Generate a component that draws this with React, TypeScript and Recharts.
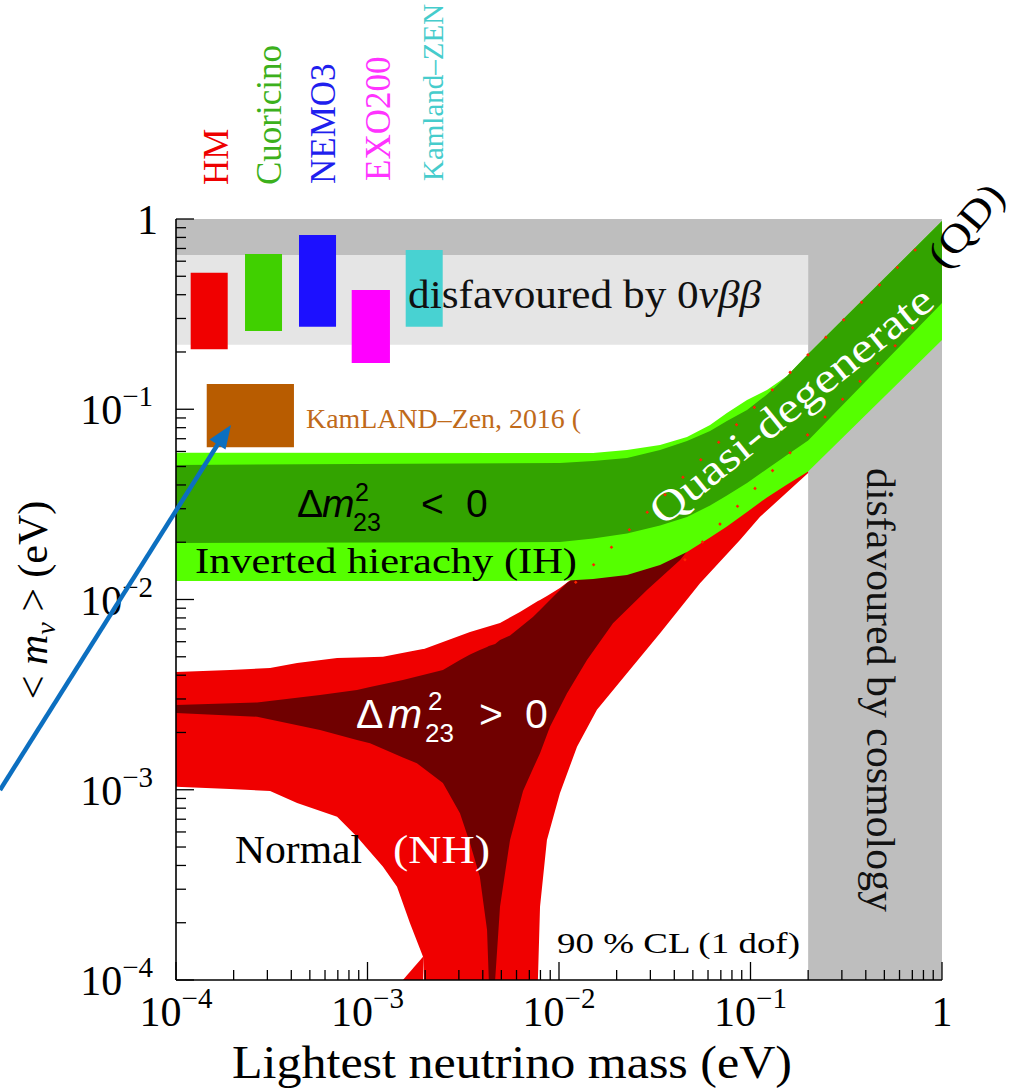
import React from 'react'
import { ComposedChart, Area, Line, XAxis, YAxis } from 'recharts'

const SERIF = '"Liberation Serif", "DejaVu Serif", serif'
const SANS = '"Liberation Sans", "DejaVu Sans", sans-serif'

// log axis ticks: decades plus 2..9 minors
const DECADES = [1e-4, 1e-3, 1e-2, 1e-1]
const MANTISSA = [1, 2, 3, 4, 5, 6, 7, 8, 9]
const TICKS = [...DECADES.flatMap((d) => MANTISSA.map((m) => m * d)), 1]

// disfavoured regions (eV)
const GRAY_TOP_X = [1e-4, 1]
const GRAY_TOP_LO = [0.647, 0.647]
const GRAY_TOP_HI = [1, 1]
const COSMO_X = [0.2, 1]
const COSMO_LO = [1e-4, 1e-4]
const COSMO_HI = [1, 1]
const DBD_X = [1e-4, 0.2]
const DBD_LO = [0.218, 0.218]
const DBD_HI = [0.647, 0.647]

// normal hierarchy, full range
const NH_X = [1e-4, 1.914e-4, 3.1e-4, 4.29e-4, 6.94e-4, 8.81e-4, 1.205e-3, 1.426e-3, 1.667e-3, 1.95e-3, 1.972e-3, 3.43e-3, 4.92e-3, 6.25e-3, 7.76e-3, 7.96e-3, 8.65e-3, 1.011e-2, 1.242e-2, 1.578e-2, 2.265e-2, 3.37e-2, 5.45e-2, 8.81e-2, 0.1122, 0.2]
const NH_LO = [1.038e-3, 1.009e-3, 9.85e-4, 8.52e-4, 7.22e-4, 5.66e-4, 3.94e-4, 3.09e-4, 1.99e-4, 1.326e-4, 1e-4, 1e-4, 1e-4, 1e-4, 1e-4, 2.43e-4, 5.45e-4, 9.58e-4, 1.684e-3, 2.63e-3, 4.09e-3, 6.64e-3, 1.217e-2, 2.055e-2, 2.72e-2, 4.62e-2]
const NH_HI = [4.16e-3, 4.26e-3, 4.36e-3, 4.64e-3, 4.93e-3, 4.96e-3, 5.005e-3, 5.17e-3, 5.33e-3, 5.5e-3, 5.5e-3, 6.75e-3, 7.52e-3, 8.6e-3, 9.82e-3, 9.94e-3, 1.043e-2, 1.149e-2, 1.345e-2, 1.5e-2, 1.82e-2, 2.46e-2, 3.33e-2, 4.91e-2, 5.96e-2, 8.78e-2]
// little spike at the bottom of the left branch
const NOTCH_X = [1.53e-3, 1.95e-3]
const NOTCH_LO = [1e-4, 1e-4]
const NOTCH_HI = [1e-4, 1.326e-4]

// normal hierarchy, best fit
const NHB_X = [1e-4, 2.65e-4, 5.65e-4, 8.81e-4, 1.031e-3, 1.53e-3, 1.811e-3, 2.477e-3, 3.04e-3, 3.43e-3, 3.86e-3, 4.21e-3, 4.3e-3, 4.64e-3, 4.92e-3, 5.55e-3, 6.49e-3, 7.31e-3, 7.96e-3, 8.97e-3, 1.1e-2, 1.4e-2, 1.914e-2, 2.88e-2, 4.29e-2, 5.45e-2, 0.1122, 0.2]
const NHB_LO = [2.53e-3, 2.42e-3, 2.06e-3, 1.826e-3, 1.754e-3, 1.477e-3, 1.377e-3, 1.085e-3, 7.52e-4, 5.23e-4, 3.49e-4, 1.83e-4, 1e-4, 1e-4, 2.43e-4, 5.45e-4, 9.85e-4, 1.29e-3, 1.555e-3, 2.145e-3, 3.21e-3, 4.81e-3, 7.5e-3, 1.122e-2, 1.613e-2, 2.18e-2, 3.54e-2, 5.41e-2]
const NHB_HI = [2.79e-3, 2.875e-3, 3.15e-3, 3.34e-3, 3.47e-3, 3.775e-3, 3.94e-3, 4.26e-3, 4.81e-3, 5.14e-3, 5.43e-3, 5.63e-3, 5.69e-3, 5.83e-3, 6.13e-3, 6.47e-3, 7.34e-3, 8.09e-3, 8.81e-3, 9.94e-3, 1.221e-2, 1.429e-2, 1.713e-2, 2.32e-2, 2.955e-2, 3.54e-2, 6.11e-2, 9.33e-2]

// inverted hierarchy / quasi-degenerate band
const IH_X = [1e-4, 1.011e-2, 1.507e-2, 2.265e-2, 3.37e-2, 4.66e-2, 6.15e-2, 7.53e-2, 9.59e-2, 0.1219, 0.1552, 0.2, 1]
const IH_LO = [1.251e-2, 1.251e-2, 1.282e-2, 1.345e-2, 1.518e-2, 1.777e-2, 2.118e-2, 2.42e-2, 2.884e-2, 3.44e-2, 4.02e-2, 4.71e-2, 0.2312]
const IH_HI = [5.91e-2, 5.89e-2, 5.89e-2, 6.11e-2, 6.49e-2, 7.15e-2, 8.26e-2, 9.56e-2, 0.1118, 0.1263, 0.1495, 0.195, 0.976]
const IHB_LO = [1.981e-2, 2.005e-2, 2.092e-2, 2.223e-2, 2.449e-2, 2.714e-2, 3.12e-2, 3.52e-2, 4.1e-2, 4.85e-2, 5.75e-2, 6.86e-2, 0.3618]
const IHB_HI = [5.09e-2, 5.22e-2, 5.35e-2, 5.54e-2, 6.11e-2, 6.81e-2, 7.69e-2, 8.68e-2, 9.91e-2, 0.1195, 0.1495, 0.195, 0.976]

// NH edges inside the QD band (dotted)
const QD_UP_X = [1.21e-2, 0.887]
const QD_UP_Y = [1.22e-2, 0.839]
const QD_LOW_X = [4.5e-2, 0.887]
const QD_LOW_Y = [1.6e-2, 0.34]

// experimental limits
const EXP_NAMES = ['HM', 'Cuoricino', 'NEMO3', 'EXO200', 'Kamland\u2013ZEN']
const EXP_X1 = [1.193e-4, 2.293e-4, 4.388e-4, 8.27e-4, 1.583e-3]
const EXP_X2 = [1.862e-4, 3.578e-4, 6.85e-4, 1.31e-3, 2.47e-3]
const EXP_LO = [0.2065, 0.2578, 0.2716, 0.175, 0.2716]
const EXP_HI = [0.522, 0.655, 0.824, 0.4234, 0.687]
const KLZ_X = [1.447e-4, 4.13e-4]
const KLZ_LO = [0.0631, 0.0631]
const KLZ_HI = [0.1358, 0.1358]

const EXP_FILL = ['#f00000', '#40d000', '#1c10ff', '#ff00ff', '#48d2d2']
const EXP_TEXT = ['#ee0000', '#3cb01c', '#1f1fee', '#ff33ff', '#46cccc']

const band = (xs: number[], lo: number[], hi: number[]) => xs.map((x, i) => ({ x, r: [lo[i], hi[i]] }))
const pts = (xs: number[], ys: number[]) => xs.map((x, i) => ({ x, y: ys[i] }))

function isDecade(v: number) {
  const l = Math.log10(v)
  return Math.abs(l - Math.round(l)) < 1e-6
}

function Pow({ v, x, y, anchor }: { v: number; x: number; y: number; anchor: 'middle' | 'end' }) {
  const e = Math.round(Math.log10(v))
  if (e === 0) {
    return (
      <text x={anchor === 'end' ? x + 5 : x} y={y} textAnchor={anchor} fontFamily={SERIF} fontSize={42} fill="#000">
        1
      </text>
    )
  }
  return (
    <text x={x} y={y} textAnchor={anchor} fontFamily={SERIF} fontSize={42} fill="#000">
      10
      <tspan dy={-18} fontSize={29}>
        {'\u2212' + Math.abs(e)}
      </tspan>
    </text>
  )
}

const MAJOR = 18
const MINOR = 10

function BottomTick(p: any) {
  const major = isDecade(p.payload.value)
  return (
    <g>
      <line x1={p.x} x2={p.x} y1={p.y} y2={p.y - (major ? MAJOR : MINOR)} stroke="#000" strokeWidth={1.3} />
      {major && <Pow v={p.payload.value} x={p.x} y={p.y + 46} anchor="middle" />}
    </g>
  )
}

function TopTick(p: any) {
  const major = isDecade(p.payload.value)
  return <line x1={p.x} x2={p.x} y1={p.y} y2={p.y + (major ? MAJOR : MINOR)} stroke="#000" strokeWidth={1.3} />
}

function LeftTick(p: any) {
  const major = isDecade(p.payload.value)
  return (
    <g>
      <line x1={p.x} x2={p.x + (major ? MAJOR : MINOR)} y1={p.y} y2={p.y} stroke="#000" strokeWidth={1.3} />
      {major && <Pow v={p.payload.value} x={p.x - 23} y={p.y + 15} anchor="end" />}
    </g>
  )
}

function RightTick(p: any) {
  const major = isDecade(p.payload.value)
  return <line x1={p.x} x2={p.x - (major ? MAJOR : MINOR)} y1={p.y} y2={p.y} stroke="#000" strokeWidth={1.3} />
}

const axisLine = { stroke: '#000', strokeWidth: 1.6 }

function fillArea(key: string, data: object[], fill: string) {
  return (
    <Area
      key={key}
      data={data}
      dataKey="r"
      type="linear"
      stroke="none"
      fill={fill}
      fillOpacity={1}
      isAnimationActive={false}
      activeDot={false}
    />
  )
}

export default function App() {
  return (
    <div style={{ position: 'absolute', left: 0, top: 0, width: 1019, height: 1090, background: '#fff', overflow: 'hidden' }}>
      <ComposedChart width={1019} height={1090} margin={{ top: 219, right: 77, bottom: 0, left: 0 }}>
        {fillArea('dbd', band(DBD_X, DBD_LO, DBD_HI), '#e5e5e5')}
        {fillArea('grayTop', band(GRAY_TOP_X, GRAY_TOP_LO, GRAY_TOP_HI), '#bebebe')}
        {fillArea('cosmo', band(COSMO_X, COSMO_LO, COSMO_HI), '#bebebe')}
        {EXP_NAMES.map((n, i) =>
          fillArea(
            'exp' + i,
            band([EXP_X1[i], EXP_X2[i]], [EXP_LO[i], EXP_LO[i]], [EXP_HI[i], EXP_HI[i]]),
            EXP_FILL[i],
          ),
        )}
        {fillArea('klz', band(KLZ_X, KLZ_LO, KLZ_HI), '#b85c00')}
        {fillArea('nh', band(NH_X, NH_LO, NH_HI), '#f00000')}
        {fillArea('notch', band(NOTCH_X, NOTCH_LO, NOTCH_HI), '#f00000')}
        {fillArea('nhb', band(NHB_X, NHB_LO, NHB_HI), '#700000')}
        {fillArea('ih', band(IH_X, IH_LO, IH_HI), '#55ff00')}
        {fillArea('ihb', band(IH_X, IHB_LO, IHB_HI), '#33a300')}

        <Line
          data={pts(QD_UP_X, QD_UP_Y)}
          dataKey="y"
          type="linear"
          stroke="#ff2200"
          strokeWidth={2.6}
          strokeDasharray="2.5 22.5"
          dot={false}
          activeDot={false}
          isAnimationActive={false}
        />
        <Line
          data={pts(QD_LOW_X, QD_LOW_Y)}
          dataKey="y"
          type="linear"
          stroke="#ff2200"
          strokeWidth={2.6}
          strokeDasharray="2.5 22.5"
          dot={false}
          activeDot={false}
          isAnimationActive={false}
        />

        <XAxis
          dataKey="x"
          type="number"
          scale="log"
          domain={[1e-4, 1]}
          allowDataOverflow
          ticks={TICKS}
          interval={0}
          height={110}
          tickLine={false}
          tickSize={0}
          tickMargin={0}
          tick={(p: any) => <BottomTick {...p} />}
          axisLine={axisLine}
          zIndex={1500}
        />
        <XAxis
          xAxisId="top"
          orientation="top"
          dataKey="x"
          type="number"
          scale="log"
          domain={[1e-4, 1]}
          allowDataOverflow
          ticks={TICKS}
          interval={0}
          height={0}
          tickLine={false}
          tickSize={0}
          tickMargin={0}
          tick={(p: any) => <TopTick {...p} />}
          axisLine={axisLine}
          zIndex={1500}
        />
        <YAxis
          type="number"
          scale="log"
          domain={[1e-4, 1]}
          allowDataOverflow
          ticks={TICKS}
          interval={0}
          width={176}
          tickLine={false}
          tickSize={0}
          tickMargin={0}
          tick={(p: any) => <LeftTick {...p} />}
          axisLine={axisLine}
          zIndex={1500}
        />
        <YAxis
          yAxisId="right"
          orientation="right"
          type="number"
          scale="log"
          domain={[1e-4, 1]}
          allowDataOverflow
          ticks={TICKS}
          interval={0}
          width={0}
          tickLine={false}
          tickSize={0}
          tickMargin={0}
          tick={(p: any) => <RightTick {...p} />}
          axisLine={axisLine}
          zIndex={1500}
        />
      </ComposedChart>

      <svg width={1019} height={1090} style={{ position: 'absolute', left: 0, top: 0, pointerEvents: 'none' }}>
        {/* experiment names above the frame */}
        <text transform="rotate(-90 228 185)" x={228} y={185} fill={EXP_TEXT[0]} fontFamily={SERIF} fontSize={35}>{EXP_NAMES[0]}</text>
        <text transform="rotate(-90 281 185)" x={281} y={185} fill={EXP_TEXT[1]} fontFamily={SERIF} fontSize={35}>{EXP_NAMES[1]}</text>
        <text transform="rotate(-90 335 184)" x={335} y={184} fill={EXP_TEXT[2]} fontFamily={SERIF} fontSize={35}>{EXP_NAMES[2]}</text>
        <text transform="rotate(-90 390 181)" x={390} y={181} fill={EXP_TEXT[3]} fontFamily={SERIF} fontSize={35}>{EXP_NAMES[3]}</text>
        <text transform="rotate(-90 443 181)" x={443} y={181} fill={EXP_TEXT[4]} fontFamily={SERIF} fontSize={29}>{EXP_NAMES[4]}</text>

        <text x={408} y={308} fontFamily={SERIF} fontSize={40} fill="#111" textLength={353} lengthAdjust="spacingAndGlyphs">
          disfavoured by 0<tspan fontStyle="italic">{'\u03bd\u03b2\u03b2'}</tspan>
        </text>
        <text x={306} y={428} fontFamily={SERIF} fontSize={27} fill="#c06a1a" textLength={275} lengthAdjust="spacingAndGlyphs">
          KamLAND{'\u2013'}Zen, 2016 (
        </text>

        <text y={517} fontFamily={SANS} fontSize={39} fill="#000">
          <tspan x={297}>{'\u0394'}</tspan>
          <tspan x={322} fontStyle="italic">m</tspan>
          <tspan x={355} y={501} fontSize={25}>2</tspan>
          <tspan x={353} y={531} fontSize={25}>23</tspan>
          <tspan x={421} y={517}>{'<'}</tspan>
          <tspan x={466}>0</tspan>
        </text>
        <text x={195} y={573} fontFamily={SERIF} fontSize={36} fill="#000" textLength={382} lengthAdjust="spacingAndGlyphs">
          Inverted hierachy (IH)
        </text>

        <text y={728} fontFamily={SANS} fontSize={41} fill="#fff">
          <tspan x={356}>{'\u0394'}</tspan>
          <tspan x={388} fontStyle="italic">m</tspan>
          <tspan x={428} y={710} fontSize={26}>2</tspan>
          <tspan x={425} y={742} fontSize={26}>23</tspan>
          <tspan x={479} y={728}>{'>'}</tspan>
          <tspan x={525}>0</tspan>
        </text>
        <text x={235} y={863} fontFamily={SERIF} fontSize={39} fill="#000" textLength={127} lengthAdjust="spacingAndGlyphs">Normal</text>
        <text x={393} y={863} fontFamily={SERIF} fontSize={40} fill="#fff" textLength={97} lengthAdjust="spacingAndGlyphs">(NH)</text>
        <text x={557} y={953} fontFamily={SERIF} fontSize={29} fill="#000" textLength={243} lengthAdjust="spacingAndGlyphs">90 % CL (1 dof)</text>

        <text transform="rotate(-39 800 416)" x={800} y={416} textAnchor="middle" fontFamily={SERIF} fontSize={42} fill="#fff" textLength={352} lengthAdjust="spacingAndGlyphs">
          Quasi-degenerate
        </text>
        <text transform="rotate(-50 976 234)" x={976} y={234} textAnchor="middle" fontFamily={SERIF} fontSize={40} fill="#000" textLength={96} lengthAdjust="spacingAndGlyphs">
          (QD)
        </text>
        <text transform="rotate(90 867 468)" x={867} y={468} fontFamily={SERIF} fontSize={39} fill="#111" textLength={444} lengthAdjust="spacingAndGlyphs">
          disfavoured by cosmology
        </text>

        {/* axis titles */}
        <text x={232} y={1078} fontFamily={SERIF} fontSize={46} fill="#000" textLength={560} lengthAdjust="spacingAndGlyphs">
          Lightest neutrino mass (eV)
        </text>
        <text transform="rotate(-90 47 600)" x={47} y={600} textAnchor="middle" fontFamily={SERIF} fontSize={42} fill="#000">
          {'< '}
          <tspan fontStyle="italic">m</tspan>
          <tspan fontStyle="italic" fontSize={28} dy={8}>{'\u03bd'}</tspan>
          <tspan dy={-8}>{' > (eV)'}</tspan>
        </text>

        {/* arrow pointing at the KamLAND-Zen 2016 box */}
        <line x1={0} y1={790} x2={218} y2={444} stroke="#0c6fc0" strokeWidth={4.5} />
        <polygon points="231,425 225.5,449.5 209.5,439.5" fill="#0c6fc0" />
      </svg>
    </div>
  )
}
